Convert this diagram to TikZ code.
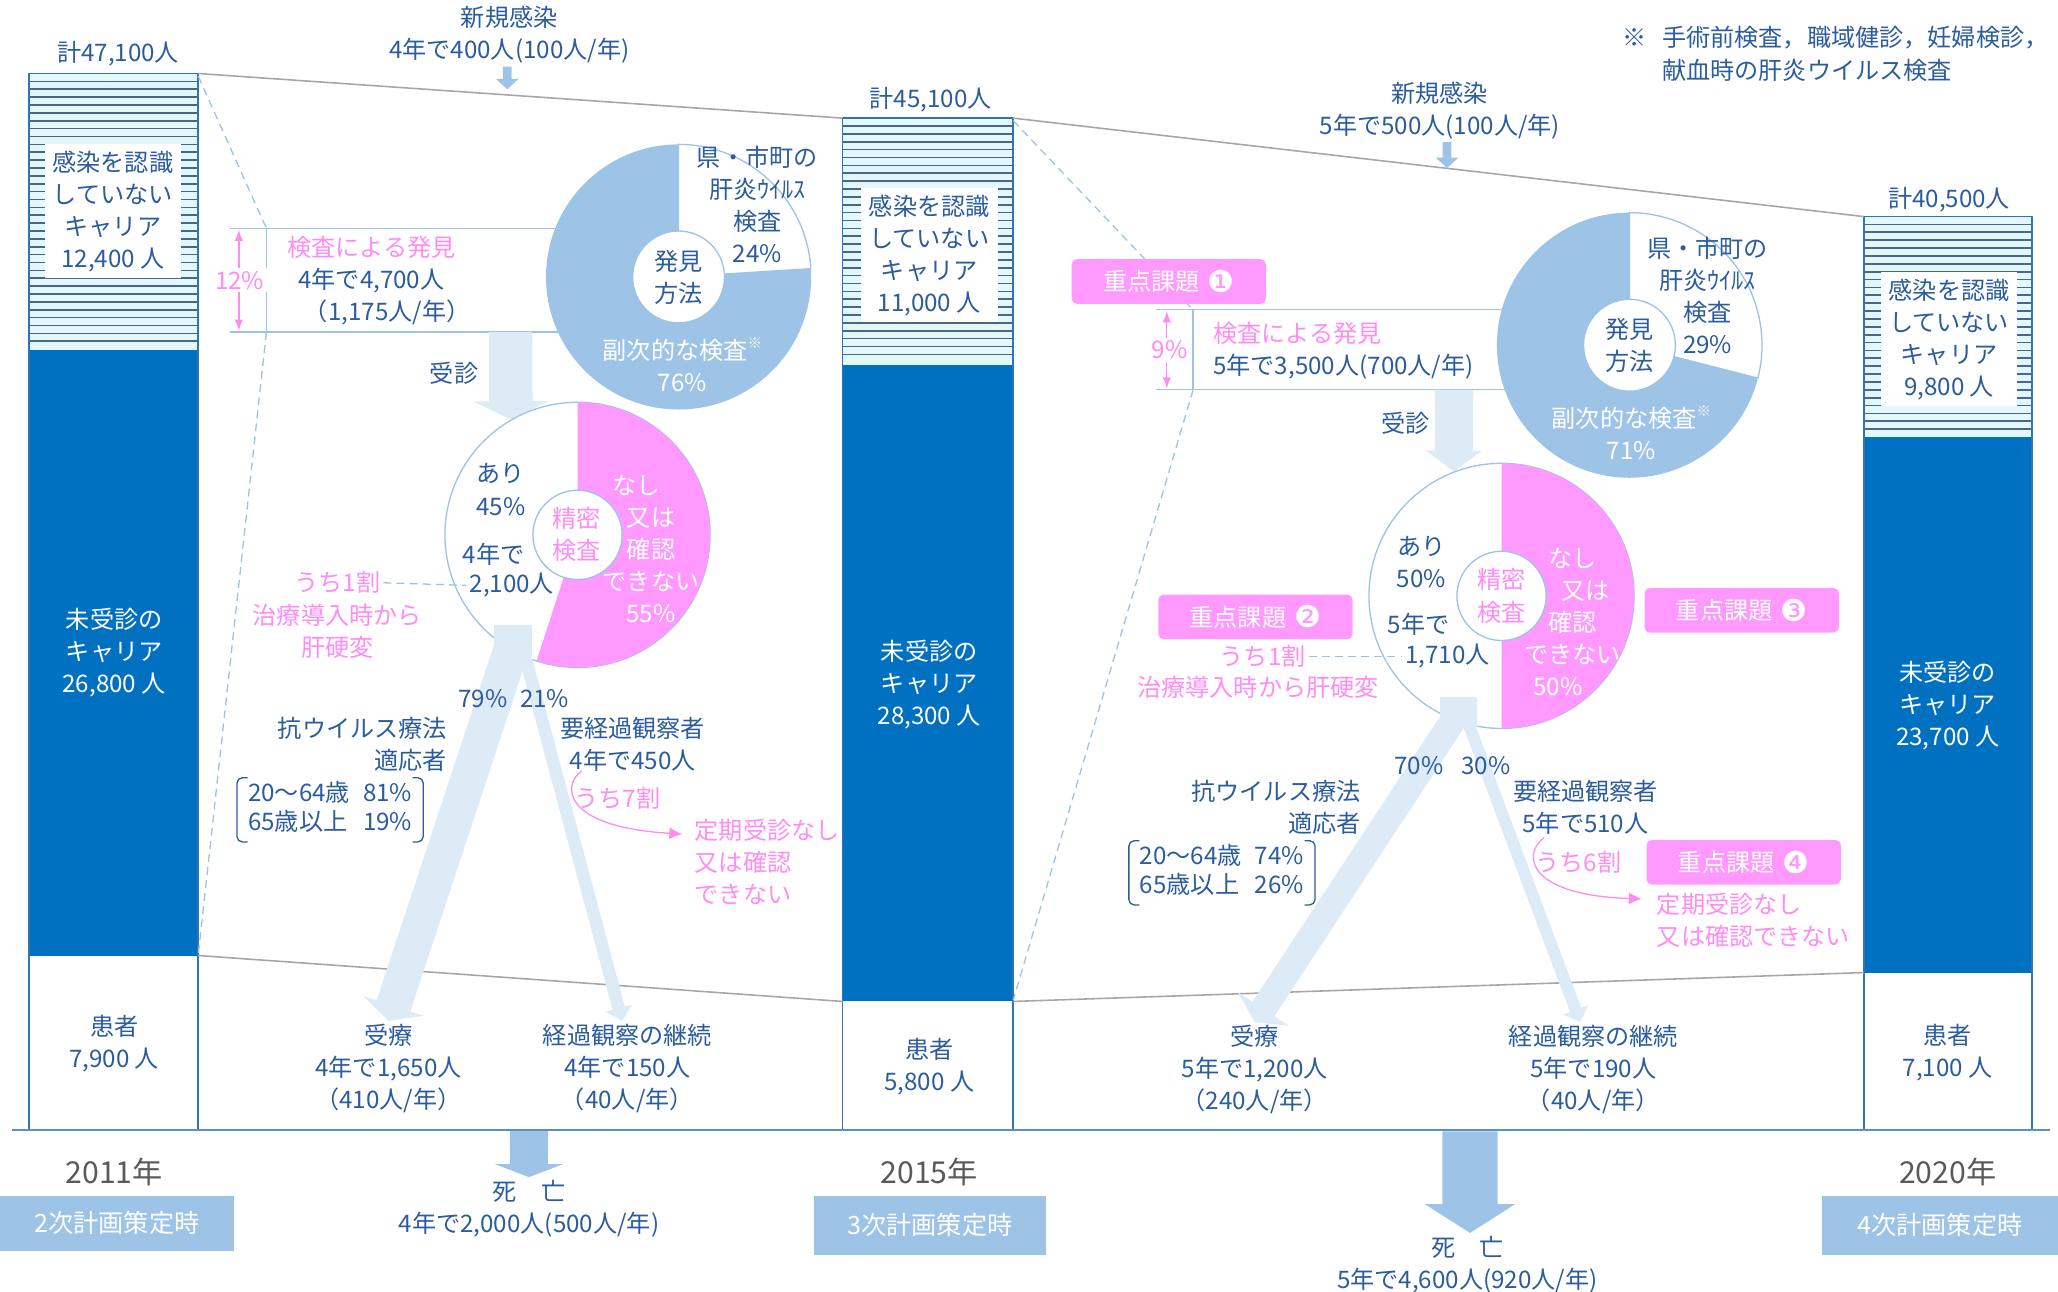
\documentclass[tikz,border=0pt]{standalone}
\usepackage{fontspec}
\setmainfont{Noto Sans CJK JP}
\newfontfamily\dingfont{DejaVu Sans}
\usetikzlibrary{arrows.meta}

\definecolor{textblue}{HTML}{2B5C9E}
\definecolor{barblue}{HTML}{0070C0}
\definecolor{edgeblue}{HTML}{2E75B6}
\definecolor{pieblue}{HTML}{9DC3E6}
\definecolor{paleblue}{HTML}{DDEBF7}
\definecolor{keypink}{HTML}{FF99FF}
\definecolor{pinktext}{HTML}{FF8CF5}
\definecolor{stripe}{HTML}{4B6584}
\definecolor{stripebg}{HTML}{E2F8FC}
\definecolor{linegray}{HTML}{A6A6A6}
\definecolor{yeargray}{HTML}{595959}

\newcommand{\keyissue}[1]{重点課題\hspace{3bp}\raisebox{-0.6bp}{\dingfont\fontsize{11.5bp}{12bp}\selectfont #1}}
\newcommand{\subnote}{\raisebox{0.45em}{\fontsize{5.5bp}{6bp}\selectfont ※}}

\begin{document}
\begin{tikzpicture}[>=latex,line join=bevel,x=0.5bp,y=-0.5bp,
  txt/.style={text=textblue,align=center,inner sep=1bp,font=\fontsize{9.2bp}{12.2bp}\selectfont},
  ptxt/.style={txt,text=pinktext},
  wtxt/.style={txt,text=white},
  labelbox/.style={txt,fill=white,inner xsep=3bp,inner ysep=2.5bp},
  keybox/.style={wtxt,fill=keypink,rounded corners=2bp,minimum width=74bp,minimum height=17bp},
  planbox/.style={wtxt,fill=pieblue,font=\fontsize{9.6bp}{12bp}\selectfont},
  yearlbl/.style={txt,text=yeargray,font=\fontsize{11.5bp}{13bp}\selectfont},
  pienode/.style={circle,minimum size=101bp,inner sep=0pt},
  stripeline/.style={draw=stripe,line width=0.65bp},
  baredge/.style={draw=edgeblue,line width=0.6bp},
  grayline/.style={draw=linegray,line width=0.6bp},
  guide/.style={draw=pieblue,line width=0.5bp,dash pattern=on 3bp off 2bp},
  boxline/.style={draw=pieblue,line width=0.5bp},
  pieedge/.style={draw=pieblue,line width=0.5bp},
  bracket/.style={draw=textblue,line width=0.5bp,rounded corners=2bp},
  pinkline/.style={draw=pinktext,line width=0.5bp},
  pinkarrow/.style={pinkline,-{Latex[length=5bp,width=4.5bp]}},
  visit/.style={draw=paleblue,line width=16.5bp,-{Triangle[width=28.5bp,length=7bp]}},
  split/.style={draw=paleblue},
  deathflow/.style={draw=pieblue,line width=14.5bp,-{Triangle[width=26bp,length=5bp]}},
  inflow/.style={draw=pieblue,line width=3.3bp,-{Triangle[width=8.5bp,length=4bp]}},
]
\useasboundingbox (0,0) rectangle (1568,984);
%% bars
\fill[stripebg] (22,56) rectangle (151,267);
\foreach \y in {62,68,...,264} \draw[stripeline] (22,\y) -- (151,\y);
\fill[barblue] (22,267) rectangle (151,728);
\draw[baredge] (22,56) rectangle (151,861);
\fill[stripebg] (642,90) rectangle (772,278);
\foreach \y in {96,102,...,275} \draw[stripeline] (642,\y) -- (772,\y);
\fill[barblue] (642,278) rectangle (772,763);
\draw[baredge] (642,90) rectangle (772,861);
\fill[stripebg] (1420,165) rectangle (1548,333);
\foreach \y in {171,177,...,330} \draw[stripeline] (1420,\y) -- (1548,\y);
\fill[barblue] (1420,333) rectangle (1548,741);
\draw[baredge] (1420,165) rectangle (1548,861);
%
\draw[grayline] (151,56) -- (642,90);
\draw[grayline] (772,90) -- (1420,165);
\draw[grayline] (151,728) -- (642,763);
\draw[grayline] (772,763) -- (1420,741);
\draw[draw=edgeblue!80,line width=0.7bp] (9,861) -- (1562,861);
%% detection boxes
\draw[boxline] (175,174) -- (440,174) (175,253) -- (440,253) (203,174) -- (203,253);
\draw[guide] (151,58) -- (203,174) (203,253) -- (151,728);
\draw[boxline] (881,236) -- (1160,236) (881,297) -- (1160,297) (909,236) -- (909,297);
\draw[guide] (772,92) -- (909,236) (909,297) -- (772,762);
\draw[pinkline,<->] (182,175) -- (182,252);
\draw[pinkline,<->] (889,237) -- (889,296);
%% pies
\node (pie_1) at (517,211) [pienode] {};
\node (pie_2) at (440,407.5) [pienode] {};
\node (pie_3) at (1241.5,263) [pienode] {};
\node (pie_4) at (1144,454) [pienode] {};
\coordinate (find_1) at (389,253);
\coordinate (find_2) at (1108,297);
\draw[visit] (find_1) -- (pie_2.120);
\draw[visit,line width=14.5bp,-{Triangle[width=21bp,length=8bp]}] (find_2) -- (pie_4.111);
\fill[pieblue] (pie_1.center) circle[radius=101];
\filldraw[fill=white,pieedge] (pie_1.center) -- ++(-90:101) arc[start angle=-90,end angle=-3.6,radius=101] -- cycle;
\filldraw[fill=white,pieedge] (pie_1.center) circle[radius=35];
\filldraw[fill=white,pieedge] (pie_2.center) circle[radius=101];
\fill[keypink] (pie_2.center) -- ++(-90:101) arc[start angle=-90,end angle=108,radius=101] -- cycle;
\filldraw[fill=white,pieedge] (pie_2.center) circle[radius=34];
\fill[pieblue] (pie_3.center) circle[radius=101];
\filldraw[fill=white,pieedge] (pie_3.center) -- ++(-90:101) arc[start angle=-90,end angle=14.4,radius=101] -- cycle;
\filldraw[fill=white,pieedge] (pie_3.center) circle[radius=35];
\filldraw[fill=white,pieedge] (pie_4.center) circle[radius=101];
\fill[keypink] (pie_4.center) -- ++(-90:101) arc[start angle=-90,end angle=90,radius=101] -- cycle;
\filldraw[fill=white,pieedge] (pie_4.center) circle[radius=34];
%% labels
\node (total_2011) at (90,41) [txt] {計47,100人};
\node (total_2015) at (709,76) [txt] {計45,100人};
\node (total_2020) at (1485,152) [txt] {計40,500人};
\node (new_inf_1) at (388,26.5) [txt] {新規感染\\4年で400人(100人/年)};
\node (new_inf_2) at (1097,84) [txt] {新規感染\\5年で500人(100人/年)};
\node (note) at (1264,41) [txt,anchor=west,align=left] {\llap{※\hspace{6bp}}手術前検査，職域健診，妊婦検診，\\献血時の肝炎ウイルス検査};
%
\node (unaware_2011) at (86,161) [labelbox] {感染を認識\\していない\\キャリア\\12,400 人};
\node (unaware_2015) at (708,194.5) [labelbox] {感染を認識\\していない\\キャリア\\11,000 人};
\node (unaware_2020) at (1485,258.5) [labelbox] {感染を認識\\していない\\キャリア\\9,800 人};
\node (untreated_2011) at (87,497) [wtxt] {未受診の\\キャリア\\26,800 人};
\node (untreated_2015) at (708,521.5) [wtxt] {未受診の\\キャリア\\28,300 人};
\node (untreated_2020) at (1484,537.5) [wtxt] {未受診の\\キャリア\\23,700 人};
\node (patient_2011) at (87,795) [txt] {患者\\7,900 人};
\node (patient_2015) at (708,812.5) [txt] {患者\\5,800 人};
\node (patient_2020) at (1484,802) [txt] {患者\\7,100 人};
\node (year_2011) at (87,893) [yearlbl] {2011年};
\node (year_2015) at (708,893) [yearlbl] {2015年};
\node (year_2020) at (1484,893) [yearlbl] {2020年};
\node (plan_2) at (89,932) [planbox,minimum width=89bp,minimum height=21bp] {2次計画策定時};
\node (plan_3) at (708.5,933.5) [planbox,minimum width=88.5bp,minimum height=22.5bp] {3次計画策定時};
\node (plan_4) at (1478,933.5) [planbox,minimum width=90bp,minimum height=22.5bp] {4次計画策定時};
%% 2011 to 2015
\node (share_1) at (182.5,213.5) [ptxt,fill=white] {12\%};
\node (found_1) at (283,214) [txt] {{\color{pinktext}検査による発見}\\4年で4,700人\\\hspace*{12bp}（1,175人/年）};
\node (visit_lbl_1) at (346,284.5) [txt] {受診};
\node (find_way_1) at (517,211) [txt] {発見\\方法};
\node (local_1) at (577,156) [txt] {県・市町の\\肝炎ｳｲﾙｽ\\検査\\24\%};
\node (other_1) at (520,278) [wtxt] {副次的な検査\subnote\\76\%};
\node (exam_1) at (439.5,407.5) [ptxt] {精密\\検査};
\node (yes_1) at (381.5,373) [txt] {あり\\45\%};
\node (span_1) at (376,422) [txt] {4年で};
\node (count_1) at (390,446) [txt] {2,100人};
\node (no_1) at (496,418) [wtxt] {なし\hspace*{11bp}\\又は\\確認\\できない\\55\%};
\node (part_1) at (257,444) [ptxt] {うち1割};
\node (cirr_1) at (257,481) [ptxt] {治療導入時から\\肝硬変};
\node (anti_1) at (343,567) [txt,anchor=east,align=right] {抗ウイルス療法\\適応者};
\node (age_1) at (251.5,617) [txt,minimum height=24bp,inner xsep=4bp] {\def\arraystretch{0.9}\begin{tabular}{@{}l@{\hspace{5bp}}r@{}}20～64歳&81\%\\65歳以上&19\%\end{tabular}};
\node (watch_1) at (482,567) [txt] {要経過観察者\\4年で450人};
\node (part_7) at (470.5,608) [ptxt] {うち7割};
\node (advice_1) at (527,656.5) [ptxt,anchor=west,align=left] {定期受診なし\\又は確認\\できない};
\node (treated_1) at (296,814) [txt] {受療\\4年で1,650人\\（410人/年）};
\node (follow_1) at (478,814) [txt] {経過観察の継続\\4年で150人\\（40人/年）};
\node (death_1) at (403,921) [txt] {死　亡\\4年で2,000人(500人/年)};
%% 2015 to 2020
\node (key_1) at (890.5,214.5) [keybox] {\keyissue{❶}};
\node (share_2) at (891,266.5) [ptxt,fill=white] {9\%};
\node (found_2) at (922,267.5) [txt,anchor=west,align=left] {{\color{pinktext}検査による発見}\\5年で3,500人(700人/年)};
\node (visit_lbl_2) at (1071,322.5) [txt] {受診};
\node (find_way_2) at (1241.5,263) [txt] {発見\\方法};
\node (local_2) at (1301,225) [txt] {県・市町の\\肝炎ｳｲﾙｽ\\検査\\29\%};
\node (other_2) at (1243,330) [wtxt] {副次的な検査\subnote\\71\%};
\node (exam_2) at (1144,454) [ptxt] {精密\\検査};
\node (yes_2) at (1083,428) [txt] {あり\\50\%};
\node (span_2) at (1081,476) [txt] {5年で};
\node (count_2) at (1103,500) [txt] {1,710人};
\node (no_2) at (1198,474) [wtxt] {なし\\\hspace*{10bp}又は\\確認\\できない\\50\%\hspace*{11bp}};
\node (key_2) at (956.5,470) [keybox] {\keyissue{❷}};
\node (key_3) at (1327,465) [keybox] {\keyissue{❸}};
\node (key_4) at (1328.5,657) [keybox] {\keyissue{❹}};
\node (part_2) at (962,500) [ptxt] {うち1割};
\node (cirr_2) at (958.5,524) [ptxt] {治療導入時から肝硬変};
\node (anti_2) at (1039,615) [txt,anchor=east,align=right] {抗ウイルス療法\\適応者};
\node (age_2) at (931,665) [txt,minimum height=24bp,inner xsep=4bp] {\def\arraystretch{0.9}\begin{tabular}{@{}l@{\hspace{5bp}}r@{}}20～64歳&74\%\\65歳以上&26\%\end{tabular}};
\node (watch_2) at (1208,615) [txt] {要経過観察者\\5年で510人};
\node (part_6) at (1202.5,657) [ptxt] {うち6割};
\node (advice_2) at (1260,701) [ptxt,anchor=west,align=left] {定期受診なし\\又は確認できない};
\node (treated_2) at (956,815) [txt] {受療\\5年で1,200人\\（240人/年）};
\node (follow_2) at (1214,815) [txt] {経過観察の継続\\5年で190人\\（40人/年）};
\node (death_2) at (1118,963.5) [txt] {死　亡\\5年で4,600人(920人/年)};
%% connectors
\coordinate (inflow_1) at (386.5,68);
\coordinate (inflow_2) at (1102.5,128);
\draw[inflow] ([xshift=-0.75bp]new_inf_1.south) -- (inflow_1);
\draw[inflow] ([xshift=2.75bp]new_inf_2.south) -- (inflow_2);
\coordinate (death_src_1) at (403,862);
\coordinate (death_src_2) at (1120,862);
\draw[deathflow] (death_src_1) -- (death_1.north);
\draw[deathflow,line width=21bp,-{Triangle[width=34bp,length=11bp]}] (death_src_2) -- ([xshift=1bp]death_2.north);
\fill[paleblue] (376,476) rectangle (405,505);
\coordinate (split_1) at (391,490);
\coordinate (split_1b) at (400,500);
\draw[split,line width=13.5bp,-{Triangle[width=24bp,length=6bp]}] (split_1) -- (treated_1.north);
\draw[split,line width=4.8bp,-{Triangle[width=10bp,length=5bp]}] (split_1b) -- ([xshift=-2bp]follow_1.north);
\fill[paleblue] (1097,531) rectangle (1125,555);
\coordinate (split_2) at (1111,543);
\coordinate (split_2b) at (1119,552);
\draw[split,line width=10bp,-{Triangle[width=23bp,length=6bp]}] (split_2) -- (treated_2.north);
\draw[split,line width=4.5bp,-{Triangle[width=10bp,length=5bp]}] (split_2b) -- ([xshift=-5bp]follow_2.north);
\draw[guide] (part_1.east) -- (count_1.west);
\draw[guide] (part_2.east) -- (count_2.west);
\draw[pinkarrow] ([shift={(4bp,5bp)}]part_7.north west) .. controls (428,598) and (428,630) .. ([shift={(-3.5bp,-7bp)}]advice_1.north west);
\draw[pinkarrow] ([shift={(4.5bp,4bp)}]part_6.north west) .. controls (1160,650) and (1162,682) .. ([shift={(-4.5bp,-3.5bp)}]advice_2.north west);
\draw[bracket] ([xshift=4bp]age_1.north west) -- (age_1.north west) -- (age_1.south west) -- ([xshift=4bp]age_1.south west);
\draw[bracket] ([xshift=-4bp]age_1.north east) -- (age_1.north east) -- (age_1.south east) -- ([xshift=-4bp]age_1.south east);
\draw[bracket] ([xshift=4bp]age_2.north west) -- (age_2.north west) -- (age_2.south west) -- ([xshift=4bp]age_2.south west);
\draw[bracket] ([xshift=-4bp]age_2.north east) -- (age_2.north east) -- (age_2.south east) -- ([xshift=-4bp]age_2.south east);
%
\node (pct_79) at (368,532) [txt] {79\%};
\node (pct_21) at (415,532) [txt] {21\%};
\node (pct_70) at (1081,583) [txt] {70\%};
\node (pct_30) at (1132,583) [txt] {30\%};
%
\end{tikzpicture}
\end{document}
